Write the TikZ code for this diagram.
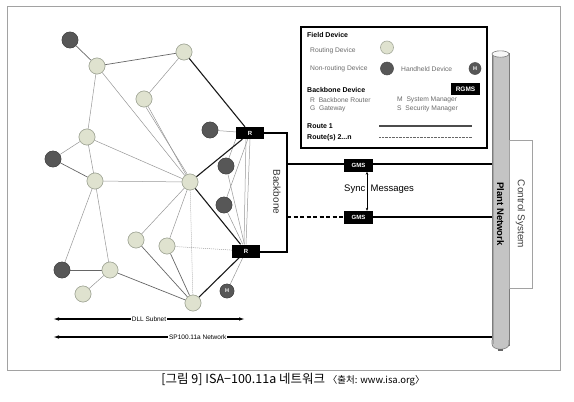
\documentclass[tikz,border=0pt]{standalone}
\usepackage{fontspec}
\setmainfont{Liberation Sans}
\newfontfamily\krfont{Noto Sans CJK KR}
\usetikzlibrary{arrows.meta}
\definecolor{lfill}{HTML}{DFE2CF}
\definecolor{ledge}{HTML}{A6AB9C}
\definecolor{dfill}{HTML}{575757}
\definecolor{egray}{HTML}{969696}
\definecolor{framegray}{HTML}{A2A2A2}
\definecolor{pipefill}{HTML}{C4C4C4}
\definecolor{pipeedge}{HTML}{7C7C7C}
\definecolor{legtext}{HTML}{6A6A6A}
\tikzset{
  lnode/.style={circle,fill=lfill,draw=ledge,line width=0.6,minimum size=16,inner sep=0},
  dnode/.style={circle,fill=dfill,draw=dfill!85!black,line width=0.5,minimum size=16,inner sep=0},
  hnode/.style={circle,fill=dfill,draw=dfill!85!black,line width=0.5,minimum size=14,inner sep=0,text=white,font=\fontsize{5.5}{6}\selectfont\bfseries},
  blackbox/.style={fill=black,text=white,font=\fontsize{6}{7}\selectfont\bfseries,inner sep=0},
  thinedge/.style={draw=egray,line width=0.5},
  medge/.style={draw=black!60,line width=0.7},
  dotedge/.style={draw=egray,line width=0.5,dash pattern=on 1pt off 1pt},
  thickedge/.style={draw=black!90,line width=1.1},
  bbline/.style={draw=black,line width=1.4},
  legtxt/.style={anchor=west,text=legtext,inner sep=0,font=\fontsize{6.7}{7}\selectfont},
  leghead/.style={anchor=west,text=black,inner sep=0,font=\fontsize{7}{8}\selectfont\bfseries},
  arrlabel/.style={fill=white,inner sep=1,font=\fontsize{6.5}{7}\selectfont},
}
\begin{document}
\begin{tikzpicture}[x=1pt,y=-1pt]
\useasboundingbox (0,0) rectangle (574,402);
\draw[framegray,line width=0.8] (7,6) rectangle (560,370);

% nodes of the mesh
\node[dnode] (a1) at (70,40) {};
\node[lnode] (l1) at (97,66) {};
\node[lnode] (l2) at (184,52) {};
\node[lnode] (l3) at (144,99) {};
\node[dnode] (d2) at (210,130) {};
\node[blackbox,minimum width=28,minimum height=12] (r1) at (250,133) {R};
\node[lnode] (l4) at (87,137) {};
\node[dnode] (d3) at (53,159) {};
\node[dnode] (d4) at (226,166) {};
\node[lnode] (l5) at (95,181) {};
\node[lnode] (l6) at (190,182) {};
\node[dnode] (d5) at (224,205) {};
\node[lnode] (l7) at (136,240) {};
\node[lnode] (l8) at (167,246) {};
\node[blackbox,minimum width=28,minimum height=13] (r2) at (246,251) {R};
\node[dnode] (d6) at (62,270) {};
\node[lnode] (l9) at (110,270) {};
\node[lnode] (l10) at (83,294) {};
\node[lnode] (l11) at (193,303) {};
\node[hnode] (h1) at (227,291) {H};

% mesh links
\path[medge] (a1) -- (l1);
\path[medge] (l1) -- (l2);
\path[thinedge] (l1) -- (l4);
\path[thinedge] (l1) -- (l6);
\path[thinedge] (l2) -- (l3);
\path[thinedge] (l3) -- (l6);
\path[thinedge] ([xshift=2]l3.south) -- ([xshift=-3]l6.north);
\path[thinedge] (d2) -- (r1);
\path[thinedge] (l4) -- (d3);
\path[thinedge] (l4) -- (l5);
\path[thinedge] (l4) -- (l6);
\path[medge] (d3) -- (l5);
\path[thinedge] (l5) -- (l6);
\path[thinedge] (r1.south west) -- (d4);
\path[thinedge] (r1) -- (d5);
\path[thinedge] (r1.south) -- (r2.north);
\path[thinedge] ([xshift=-4]r1.south) -- ([xshift=-2]r2.north);
\path[thinedge] (d4) -- (r2);
\path[thinedge] (d5) -- (r2);
\path[thinedge] (l5) -- (d6);
\path[thinedge] (l5) -- (l9);
\path[medge] (d6) -- (l9);
\path[thinedge] (l9) -- (l10);
\path[medge] (l9) -- (l11);
\path[thinedge] (l6) -- (l7);
\path[thinedge] (l6) -- (l8);
\path[dotedge] (l6) -- (l11);
\path[medge] (l7) -- (l11);
\path[medge] (l8) -- (l11);
\path[dotedge] (l8) -- (r2);
\path[thinedge] (r2) -- (h1);
\path[thickedge] (l2) -- (r1);
\path[thickedge] (l6) -- (r1);
\path[thickedge] (l6) -- (r2);
\path[thickedge] (l11) -- (r2);

% redraw nodes on top of links
\node[dnode] at (a1) {};
\node[lnode] at (l1) {};
\node[lnode] at (l2) {};
\node[lnode] at (l3) {};
\node[dnode] at (d2) {};
\node[lnode] at (l4) {};
\node[dnode] at (d3) {};
\node[dnode] at (d4) {};
\node[lnode] at (l5) {};
\node[lnode] at (l6) {};
\node[dnode] at (d5) {};
\node[lnode] at (l7) {};
\node[lnode] at (l8) {};
\node[dnode] at (d6) {};
\node[lnode] at (l9) {};
\node[lnode] at (l10) {};
\node[lnode] at (l11) {};
\node[hnode] at (h1) {H};
\node[blackbox,minimum width=28,minimum height=12] at (r1) {R};
\node[blackbox,minimum width=28,minimum height=13] at (r2) {R};

% backbone
\coordinate (bbt) at (287,133);
\coordinate (bbb) at (287,252);
\coordinate (bb1) at (287,164);
\coordinate (bb2) at (287,217);
\draw[bbline] (r1.east) -- (bbt) -- (bbb) -- (r2.east |- bbb);
\node[rotate=-90,font=\fontsize{10}{12}\selectfont,text=black!80] (bbtxt) at (277,192) {Backbone};

% pipe (plant network)
\node[fill=pipefill,draw=pipeedge,line width=0.6,minimum width=17,minimum height=292,inner sep=0] (pipe) at (500.5,199) {};
\fill[pipefill] (492,344) .. controls (492,351) and (509,351) .. (509,344) -- (509,340) -- (492,340) -- cycle;
\draw[pipeedge,line width=0.6] (492,340) -- (492,344) .. controls (492,351) and (509,351) .. (509,344) -- (509,340);
\fill[black!60] (498,349) rectangle (503,350.5);
\draw[pipeedge!70,line width=1.2] (493.2,56) -- (493.2,344);
\filldraw[fill=white!94!gray,draw=pipeedge,line width=0.6] (500.5,54) ellipse [x radius=8.5,y radius=3.2];
\node[rotate=-90,font=\fontsize{9.5}{11}\selectfont\bfseries] (pntxt) at (500.5,214) {Plant Network};

% control system
\node[draw=framegray,fill=white,line width=0.6,minimum width=23,minimum height=148,inner sep=0] (ctrl) at (520.5,214) {};
\node[rotate=-90,font=\fontsize{10}{12}\selectfont,text=black!75] at (ctrl) {Control System};

% gateways
\node[blackbox,minimum width=29,minimum height=13] (g1) at (358.5,165) {GMS};
\node[blackbox,minimum width=29,minimum height=13] (g2) at (358.5,217.5) {GMS};
\draw[bbline] (bb1) -- (bb1 -| g1.west);
\draw[bbline] (g1.east |- bb1) -- (bb1 -| pipe.west);
\draw[bbline,dash pattern=on 4pt off 2.5pt] (bb2) -- (bb2 -| g2.west);
\draw[bbline] (g2.east |- bb2) -- (bb2 -| pipe.west);
\coordinate (sx) at (367,0);
\draw[{Stealth[length=3,width=2.5]}-{Stealth[length=3,width=2.5]},line width=0.7] (g1.south -| sx) -- (g2.north -| sx);
\node[font=\fontsize{9.5}{11}\selectfont,anchor=east,inner sep=0] (sync) at (365.5,189) {Sync};
\node[font=\fontsize{9.5}{11}\selectfont,anchor=west,inner sep=0] (msg) at (370.5,189) {Messages};

% legend
\node[draw=black,line width=1.2,minimum width=186,minimum height=121,inner sep=0] (legend) at (394,87.5) {};
\node[leghead] (lfd) at (307,35) {Field Device};
\node[legtxt] (lrd) at (310,51) {Routing Device};
\node[lnode,minimum size=13] (lrc) at (387,47.5) {};
\node[legtxt] (lnr) at (310,69) {Non-routing Device};
\node[dnode,minimum size=13] (lnc) at (387,68.5) {};
\node[legtxt] (lhd) at (401,69.5) {Handheld Device};
\node[hnode,minimum size=12] (lhc) at (475,68.5) {H};
\node[leghead] (lbd) at (307,90) {Backbone Device};
\node[blackbox,minimum width=29,minimum height=12,font=\fontsize{6.5}{7}\selectfont\bfseries] (lrg) at (465.5,89) {RGMS};
\node[legtxt] (lr) at (310,100) {R\ \ Backbone Router};
\node[legtxt] (lg) at (310,109) {G\ \ Gateway};
\node[legtxt] (lm) at (397,100) {M\ \ System Manager};
\node[legtxt] (ls) at (397,109) {S\ \ Security Manager};
\node[leghead] (lr1) at (307,126) {Route 1};
\node[leghead] (lr2) at (307,138) {Route(s) 2...n};
\coordinate (rl1a) at (379,126);
\coordinate (rl1b) at (472,126);
\coordinate (rl2a) at (379,137.5);
\coordinate (rl2b) at (472,137.5);
\draw[black!70,line width=1.2] (rl1a) -- (rl1b);
\draw[black!60,line width=0.7,dash pattern=on 0.8pt off 0.6pt] (rl2a) -- (rl2b);

% extent arrows
\coordinate (dllL) at (53,319);
\coordinate (dllR) at (245,319);
\draw[{Latex[length=6,width=3.5]}-{Latex[length=6,width=3.5]},line width=1.1] (dllL) -- node[arrlabel] (dlltxt) {DLL Subnet} (dllR);
\coordinate (spL) at (53,337);
\draw[{Latex[length=6,width=3.5]}-,line width=1.1] (spL) -- node[arrlabel,pos=0.33] (sptxt) {SP100.11a Network} (spL -| pipe.west);

% caption
\node[font=\fontsize{12.5}{14}\selectfont,inner sep=0] (cap) at (293,380) {\krfont [그림 9] ISA−100.11a 네트워크 {\fontsize{9.5}{11}\selectfont 〈출처: www.isa.org〉}};
\end{tikzpicture}
\end{document}
